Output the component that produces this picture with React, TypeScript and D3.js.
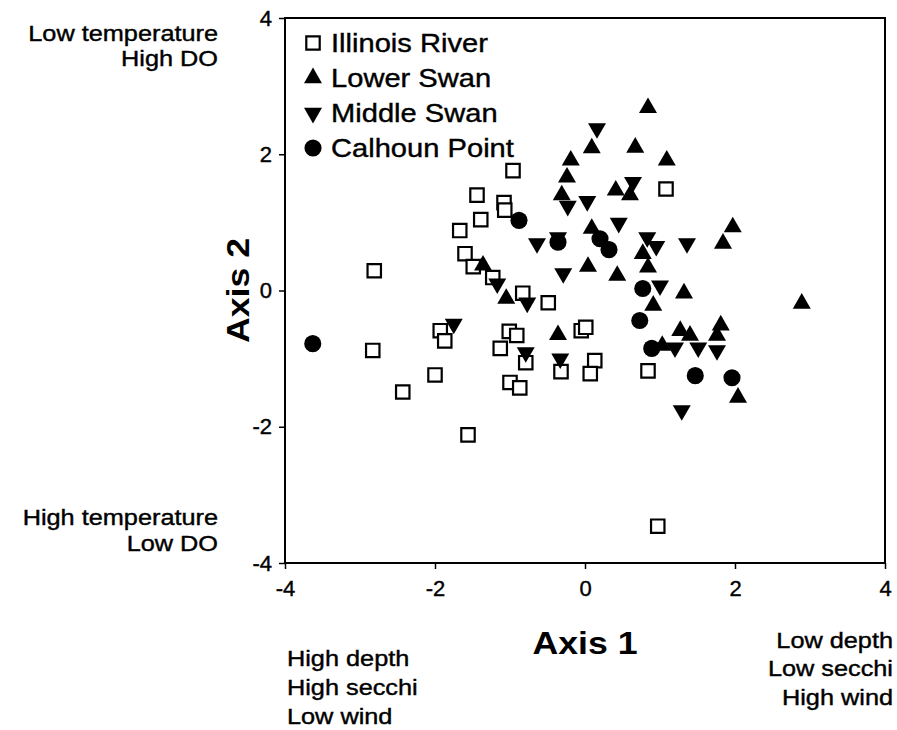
import { useEffect, useRef } from 'react'
import * as d3 from 'd3'

type Pt = [number, number]

const illinoisRiver: Pt[] = [
  [-2.81, 0.29], [-2.83, -0.88], [-2.43, -1.49], [-2.0, -1.24], [-1.93, -0.59], [-1.87, -0.74],
  [-1.56, -2.12], [-1.67, 0.88], [-1.6, 0.54], [-1.49, 0.35], [-1.44, 1.4], [-1.39, 1.04],
  [-0.96, 1.76], [-1.08, 1.29], [-1.07, 1.18], [-1.23, 0.19], [-0.83, -0.04], [-0.49, -0.18],
  [-1.01, -0.6], [-0.91, -0.66], [-1.13, -0.85], [-1.0, -1.35], [-0.87, -1.43], [-0.79, -1.06],
  [-0.32, -1.19], [-0.05, -0.59], [0.01, -0.54], [0.13, -1.03], [0.07, -1.22], [0.84, -1.18],
  [1.08, 1.49], [0.97, -3.46],
]

const lowerSwan: Pt[] = [
  [-1.36, 0.37], [-1.05, -0.12], [-0.36, -0.65], [0.04, 0.35], [0.43, 0.22], [-0.31, 1.4],
  [-0.24, 1.66], [-0.19, 1.91], [0.09, 2.09], [0.84, 2.68], [0.67, 2.1], [1.09, 1.91],
  [0.41, 1.47], [0.6, 1.4], [0.09, 0.91], [0.77, 0.54], [0.84, 0.34], [1.32, -0.04],
  [0.91, -0.22], [1.97, 0.93], [1.84, 0.69], [2.89, -0.19], [1.27, -0.59], [1.4, -0.66],
  [1.03, -0.81], [1.81, -0.51], [1.76, -0.66], [2.04, -1.57],
]

const middleSwan: Pt[] = [
  [-1.75, -0.49], [-1.17, 0.1], [-0.77, -0.18], [-0.79, -0.91], [-0.33, -1.0], [-0.64, 0.69],
  [-0.36, 0.78], [-0.29, 0.25], [-0.23, 1.24], [0.03, 1.31], [0.16, 2.38], [0.64, 1.59],
  [0.45, 0.99], [0.83, 0.78], [0.95, 0.65], [1.0, 0.07], [1.36, 0.69], [1.2, -0.84],
  [1.51, -0.84], [1.76, -0.88], [1.29, -1.76],
]

const calhounPoint: Pt[] = [
  [-3.63, -0.78], [-0.88, 1.03], [-0.36, 0.71], [0.2, 0.76], [0.32, 0.6], [0.77, 0.03],
  [0.73, -0.44], [0.89, -0.85], [1.47, -1.25], [1.96, -1.28],
]

const xTicks = [-4, -2, 0, 2, 4]
const yTicks = [-4, -2, 0, 2, 4]
const legendLabels = ['Illinois River', 'Lower Swan', 'Middle Swan', 'Calhoun Point']

const FONT = 'Liberation Sans, Arial, Helvetica, sans-serif'

export default function App() {
  const svgRef = useRef<SVGSVGElement>(null)

  useEffect(() => {
    if (!svgRef.current) return
    const width = 897
    const height = 730
    const margin = { top: 18, right: 12, bottom: 167, left: 285 }
    const innerW = width - margin.left - margin.right
    const innerH = height - margin.top - margin.bottom

    const svg = d3.select(svgRef.current)
    svg.selectAll('*').remove()
    svg.attr('width', width).attr('height', height)

    const g = svg.append('g').attr('transform', `translate(${margin.left},${margin.top})`)

    const x = d3.scaleLinear().domain([-4, 4]).range([0, innerW])
    const y = d3.scaleLinear().domain([-4, 4]).range([innerH, 0])

    // frame
    g.append('rect')
      .attr('width', innerW).attr('height', innerH)
      .attr('fill', 'none').attr('stroke', '#000').attr('stroke-width', 2)

    // axes (plain hyphen for negatives, like the original)
    const fmt = (d: d3.NumberValue) => String(d)
    g.append('g')
      .attr('transform', `translate(0,${innerH})`)
      .call(d3.axisBottom(x).tickValues(xTicks).tickSize(6).tickPadding(11).tickFormat(fmt))
      .call(ax => ax.select('.domain').remove())
      .call(ax => ax.selectAll('.tick line').attr('stroke', '#000').attr('stroke-width', 1.5))
      .call(ax => ax.selectAll('.tick text').attr('fill', '#000').attr('font-size', '22px')
        .attr('font-family', FONT).attr('stroke', '#000').attr('stroke-width', 0.4))

    g.append('g')
      .call(d3.axisLeft(y).tickValues(yTicks).tickSize(6).tickPadding(7).tickFormat(fmt))
      .call(ax => ax.select('.domain').remove())
      .call(ax => ax.selectAll('.tick line').attr('stroke', '#000').attr('stroke-width', 1.5))
      .call(ax => ax.selectAll('.tick text').attr('fill', '#000').attr('font-size', '22px')
        .attr('font-family', FONT).attr('stroke', '#000').attr('stroke-width', 0.4))

    const sq = d3.symbol().type(d3.symbolSquare).size(180)
    const tri = d3.symbol().type(d3.symbolTriangle).size(140)
    const circ = d3.symbol().type(d3.symbolCircle).size(230)

    const series = [
      { data: illinoisRiver, path: sq(), rot: 0, fill: '#fff', stroke: 2.2 },
      { data: lowerSwan, path: tri(), rot: 0, fill: '#000', stroke: 0 },
      { data: middleSwan, path: tri(), rot: 180, fill: '#000', stroke: 0 },
      { data: calhounPoint, path: circ(), rot: 0, fill: '#000', stroke: 0 },
    ]

    series.forEach(s => {
      g.append('g')
        .selectAll('path')
        .data(s.data)
        .enter().append('path')
        .attr('d', s.path as string)
        .attr('transform', d => `translate(${x(d[0])},${y(d[1])}) rotate(${s.rot})`)
        .attr('fill', s.fill)
        .attr('stroke', '#000')
        .attr('stroke-width', s.stroke)
    })

    // legend
    const legend = g.append('g').attr('transform', 'translate(28, 25)')
    legendLabels.forEach((label, i) => {
      const row = legend.append('g').attr('transform', `translate(0, ${i * 35})`)
      const s = series[i]
      row.append('path')
        .attr('d', s.path as string)
        .attr('transform', `rotate(${s.rot})`)
        .attr('fill', s.fill).attr('stroke', '#000').attr('stroke-width', s.stroke)
      row.append('text')
        .attr('transform', 'translate(18, 9) scale(1.12,1)')
        .attr('font-size', '26px').attr('font-family', FONT).attr('fill', '#000')
        .attr('stroke', '#000').attr('stroke-width', 0.4)
        .text(label)
    })

    // side labels
    const addText = (tx: number, ty: number, txt: string, anchor: string, size: number, sx: number, bold = false) => {
      svg.append('text')
        .attr('transform', `translate(${tx},${ty}) scale(${sx},1)`)
        .attr('text-anchor', anchor)
        .attr('font-size', `${size}px`)
        .attr('font-family', FONT)
        .attr('font-weight', bold ? 'bold' : 'normal')
        .attr('fill', '#000')
        .attr('stroke', '#000').attr('stroke-width', bold ? 0 : 0.4)
        .text(txt)
    }

    addText(218, 41, 'Low temperature', 'end', 22, 1.15)
    addText(218, 66, 'High DO', 'end', 22, 1.15)
    addText(218, 525, 'High temperature', 'end', 22, 1.15)
    addText(218, 551, 'Low DO', 'end', 22, 1.15)
    addText(287, 666, 'High depth', 'start', 22, 1.15)
    addText(287, 695, 'High secchi', 'start', 22, 1.15)
    addText(287, 724, 'Low wind', 'start', 22, 1.15)
    addText(893, 648, 'Low depth', 'end', 22, 1.15)
    addText(893, 676, 'Low secchi', 'end', 22, 1.15)
    addText(893, 705, 'High wind', 'end', 22, 1.15)

    addText(margin.left + x(0), 654, 'Axis 1', 'middle', 31, 1.15, true)

    svg.append('text')
      .attr('transform', `translate(249, ${margin.top + y(0)}) rotate(-90) scale(1.15,1)`)
      .attr('text-anchor', 'middle')
      .attr('font-size', '31px').attr('font-weight', 'bold').attr('font-family', FONT)
      .attr('fill', '#000')
      .text('Axis 2')
  }, [])

  return (
    <svg ref={svgRef} style={{ position: 'absolute', left: 0, top: 0, background: '#fff' }} />
  )
}
